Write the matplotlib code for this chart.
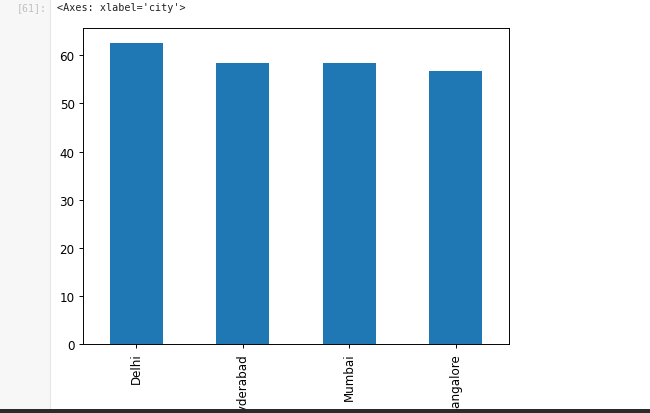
import matplotlib
matplotlib.use("Agg")
import matplotlib.pyplot as plt
from matplotlib.patches import Rectangle
from matplotlib.lines import Line2D

cities = ['Delhi', 'Hyderabad', 'Mumbai', 'Bangalore']
values = [62.6, 58.5, 58.5, 56.7]
yticks = [0, 10, 20, 30, 40, 50, 60]

W, H = 650, 414
S = 0.858  # screenshot scale
fig = plt.figure(figsize=(W / 100, H / 100), dpi=100)
fig.patch.set_facecolor('white')

# notebook gutter
fig.add_artist(Rectangle((0, 0), 50 / W, 1, transform=fig.transFigure,
                         facecolor='#f7f7f7', edgecolor='none', zorder=0))
fig.add_artist(Line2D([50 / W, 50 / W], [0, 1], transform=fig.transFigure,
                      color='#e6e6e6', lw=0.8, zorder=0))
fig.text(17 / W, 1 - 8 / H, '[61]:', family='DejaVu Sans Mono', fontsize=7.2,
         color='#c0c0c0', va='center', ha='left')
fig.text(57 / W, 1 - 8 / H, "<Axes: xlabel='city'>", family='DejaVu Sans Mono',
         fontsize=7.3, color='#222222', va='center', ha='left')

left, right, top, bottom = 83, 509, 28.7, 345.3
ax = fig.add_axes([left / W, 1 - bottom / H, (right - left) / W, (bottom - top) / H])
x = list(range(len(cities)))
ax.bar(x, values, width=0.5, color='#1f77b4')
ax.set_xlim(-0.5, len(cities) - 0.5)
ax.set_ylim(0, max(values) * 1.05)
ax.set_xticks(x)
ax.set_xticklabels(cities, rotation=90, fontsize=10 * S)
ax.set_yticks(yticks)
ax.tick_params(axis='y', labelsize=10 * S)
ax.tick_params(length=3.5 * S, width=0.8 * S, pad=3.5 * S)
for sp in ax.spines.values():
    sp.set_linewidth(0.8 * S)
ax.set_xlabel('city', fontsize=10 * S)

# bottom dark bar overlays the clipped labels
fig.add_artist(Rectangle((0, 0), 1, 4 / H, transform=fig.transFigure,
                         facecolor='#2b2b2b', edgecolor='none', zorder=10))

fig.savefig('out.png', dpi=100)
